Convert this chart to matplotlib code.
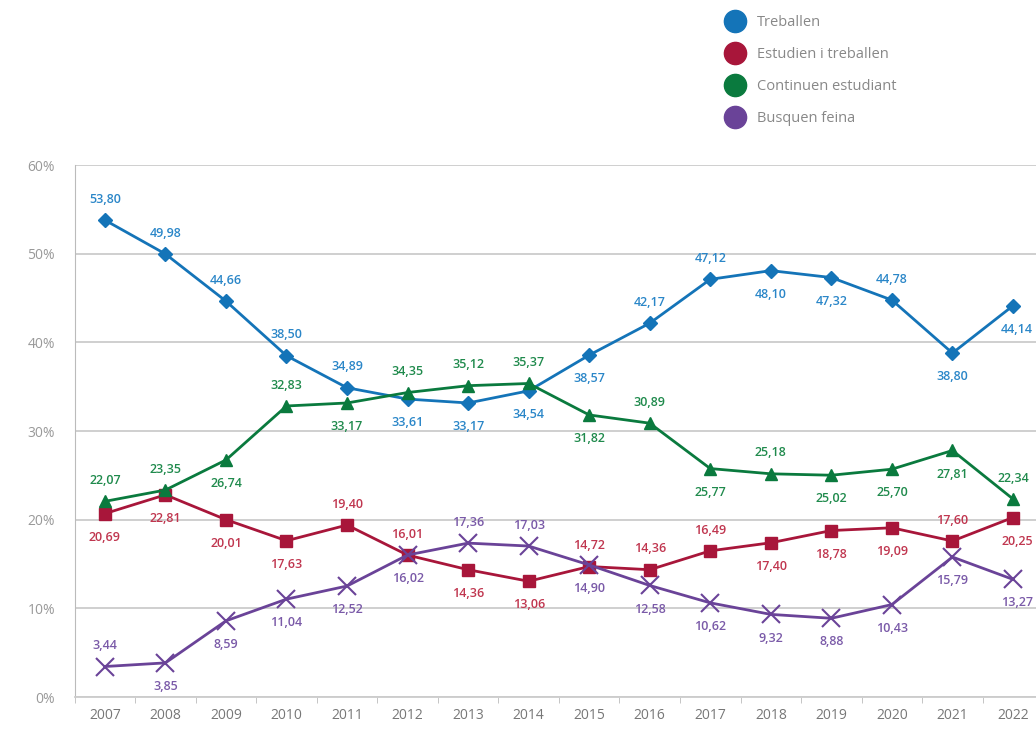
import numpy as np
import matplotlib.pyplot as plt
from matplotlib.lines import Line2D
from matplotlib.ticker import FixedLocator

years = list(range(2007, 2023))

treballen = [53.80, 49.98, 44.66, 38.50, 34.89, 33.61, 33.17, 34.54,
             38.57, 42.17, 47.12, 48.10, 47.32, 44.78, 38.80, 44.14]
estudien = [20.69, 22.81, 20.01, 17.63, 19.40, 16.01, 14.36, 13.06,
            14.72, 14.36, 16.49, 17.40, 18.78, 19.09, 17.60, 20.25]
continuen = [22.07, 23.35, 26.74, 32.83, 33.17, 34.35, 35.12, 35.37,
             31.82, 30.89, 25.77, 25.18, 25.02, 25.70, 27.81, 22.34]
busquen = [3.44, 3.85, 8.59, 11.04, 12.52, 16.02, 17.36, 17.03,
           14.90, 12.58, 10.62, 9.32, 8.88, 10.43, 15.79, 13.27]

# label position: 1 above, -1 below
pos_treb = [1, 1, 1, 1, 1, -1, -1, -1, -1, 1, 1, -1, -1, 1, -1, -1]
pos_est = [-1, -1, -1, -1, 1, 1, -1, -1, 1, 1, 1, -1, -1, -1, 1, -1]
pos_cont = [1, 1, -1, 1, -1, 1, 1, 1, -1, 1, -1, 1, -1, -1, -1, 1]
pos_busq = [1, -1, -1, -1, -1, -1, 1, 1, -1, -1, -1, -1, -1, -1, -1, -1]

series = [
    ("Treballen", treballen, pos_treb, "#1474b8", "#2a86c8", "D", 7),
    ("Estudien i treballen", estudien, pos_est, "#a8163a", "#c0364f", "s", 8),
    ("Continuen estudiant", continuen, pos_cont, "#0a7a3e", "#1f8a4c", "^", 8),
    ("Busquen feina", busquen, pos_busq, "#6a4398", "#7a5aa8", "x", 13),
]

plt.rcParams['font.family'] = ['Open Sans', 'DejaVu Sans']

fig = plt.figure(figsize=(10.36, 7.34), dpi=100)
ax = fig.add_axes([0.072, 0.0504, 0.935, 0.7246])

for name, vals, pos, col, tcol, mk, ms in series:
    ax.plot(years, vals, color=col, lw=2, marker=mk, markersize=ms,
            markeredgewidth=1.5 if mk == "x" else 1, zorder=3)
    for x, v, p in zip(years, vals, pos):
        dx = 0
        if x == 2022 and p < 0:
            dx = 3
        ax.annotate(f"{v:.2f}".replace(".", ","), (x, v),
                    xytext=(dx, 15 if p > 0 else -17), textcoords="offset points",
                    ha="center", va="center", fontsize=9, fontweight="semibold",
                    color=tcol, zorder=4)

ax.set_xlim(2006.5, 2022.5)
ax.set_ylim(0, 60)
ax.set_yticks(np.arange(0, 61, 10))
ax.set_yticklabels([f"{t}%" for t in range(0, 61, 10)])
ax.set_xticks(years)
ax.xaxis.set_minor_locator(FixedLocator(np.arange(2006.5, 2023, 1)))
ax.tick_params(axis="x", which="major", length=0, labelsize=10, labelcolor="#777777", pad=8)
ax.tick_params(axis="x", which="minor", length=4, color="#bbbbbb")
ax.tick_params(axis="y", length=0, labelsize=10, labelcolor="#999999", pad=14)
ax.grid(axis="y", color="#cccccc", lw=1.3)
ax.set_axisbelow(True)
for s in ["top", "right"]:
    ax.spines[s].set_visible(False)
ax.spines["left"].set_color("#bbbbbb")
ax.spines["bottom"].set_color("#cccccc")
ax.spines["bottom"].set_linewidth(1.3)

handles = [Line2D([], [], ls="none", marker="o", markersize=16, color=c[3]) for c in series]
fig.legend(handles, [s[0] for s in series], loc="upper left", bbox_to_anchor=(0.686, 0.997),
           frameon=False, fontsize=10.5, labelcolor="#888888", handletextpad=0.8,
           labelspacing=1.15, handlelength=1.5)

fig.savefig("out.png", dpi=100)
